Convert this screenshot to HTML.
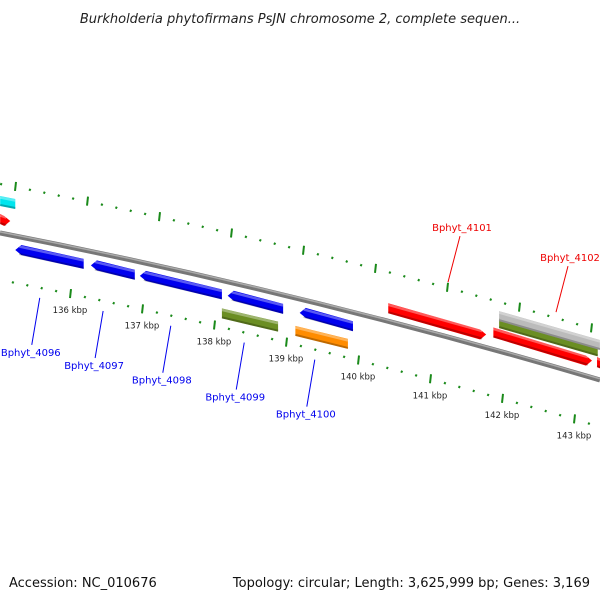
<!DOCTYPE html>
<html><head><meta charset="utf-8"><style>
body{margin:0;background:#fff}
svg{display:block;font-family:"DejaVu Sans","Liberation Sans",sans-serif}
</style></head><body>
<svg id="map" width="600" height="600" viewBox="0 0 600 600">
<rect width="600" height="600" fill="#fff"/>
<text x="300" y="23" text-anchor="middle" font-size="13" font-style="italic" fill="#222">Burkholderia phytofirmans PsJN chromosome 2, complete sequen...</text>
<path d="M0,233 Q300,291.5 600,380" stroke="#777" stroke-width="5" fill="none"/>
<path d="M0,231.8 Q300,290.3 600,378.8" stroke="#aaa" stroke-width="1.5" fill="none"/>
<g id="ticks"></g><g id="feats"></g><g id="labels"></g>
<text x="9" y="587" font-size="13" fill="#111">Accession: NC_010676</text>
<text x="590" y="587" text-anchor="end" font-size="13" fill="#111">Topology: circular; Length: 3,625,999 bp; Genes: 3,169</text>
</svg>
<script>
const kbTicks=[136,137,138,139,140,141,142,143];
const kbLabels=["136 kbp","137 kbp","138 kbp","139 kbp","140 kbp","141 kbp","142 kbp","143 kbp"];
const geneNames=["Bphyt_4096","Bphyt_4097","Bphyt_4098","Bphyt_4099","Bphyt_4100","Bphyt_4101","Bphyt_4102"];
const geneAnchor=[135.58,136.46,137.40,138.42,139.40,141.25,142.75];
const featStart=[135.24,136.29,136.97,138.19,138.11,139.19,139.13,140.42,141.88,141.96,141.96,135.03,135.03,143.32];
const featEnd=[136.19,136.90,138.11,138.96,138.89,139.93,139.86,141.78,143.25,143.33,143.36,135.17,135.24,143.6];
const featLane=[14,14,14,14,33,14,33,-13,-17,-28,-35,-14,-32,-17];
const featColor=["#0000ee","#0000ee","#0000ee","#0000ee","#6b8e23","#0000ee","#ff8c00","#ff0000","#ff0000","#6b8e23","#bbbbbb","#ff0000","#00e5ee","#ff0000"];
const featDir=[-1,-1,-1,-1,0,-1,0,1,1,0,0,1,0,1];
const NS="http://www.w3.org/2000/svg";
const X=kb=>70+(kb-136)*72;
function yb(x){const t=x/600;return 233*(1-t)*(1-t)+2*291.5*t*(1-t)+380*t*t;}
function mk(tag,attrs,parent){const e=document.createElementNS(NS,tag);for(const k in attrs)e.setAttribute(k,attrs[k]);parent.appendChild(e);return e;}
const tg=document.getElementById('ticks');
for(let k=133;k<=144;k+=0.2){const kk=Math.round(k*10)/10;const x=X(kk);if(x<-5||x>605)continue;
 const maj=Math.abs(kk-Math.round(kk))<0.01;const y=yb(x)+47;
 const e=mk('line',{x1:x+1,y1:maj?y-5:y-1,x2:x,y2:maj?y+4:y+1,stroke:'#1a8a1a','stroke-width':2},tg);
 
 }
for(let k=133;k<=145;k+=0.2){const kk=Math.round(k*10)/10;const x=X(kk)-55;if(x<-5||x>605)continue;
 const maj=Math.abs(kk-Math.round(kk))<0.01;const y=yb(x)-49;
 const e=mk('line',{x1:x+1,y1:maj?y-5:y-1,x2:x,y2:maj?y+4:y+1,stroke:'#1a8a1a','stroke-width':2},tg);
 
 }
kbTicks.forEach((k,i)=>{const x=X(k);const e=mk('text',{x:x,y:yb(x)+66,'text-anchor':'middle','font-size':8.5,fill:'#222'},tg);e.textContent=kbLabels[i];
 
 });
const fg=document.getElementById('feats');
featStart.forEach((s,i)=>{const x1=X(s),x2=X(featEnd[i]),off=featLane[i],h=5,d=featDir[i];
 const a=[x1,yb(x1)+off],b=[x2,yb(x2)+off];
 let pts;
 if(d===1)pts=[[a[0],a[1]-h],[b[0]-6,b[1]-h],[b[0],b[1]],[b[0]-6,b[1]+h],[a[0],a[1]+h]];
 else if(d===-1)pts=[[a[0]+6,a[1]-h],[b[0],b[1]-h],[b[0],b[1]+h],[a[0]+6,a[1]+h],[a[0],a[1]]];
 else pts=[[a[0],a[1]-h],[b[0],b[1]-h],[b[0],b[1]+h],[a[0],a[1]+h]];
 const e=mk('polygon',{points:pts.map(p=>p.join(',')).join(' '),fill:featColor[i]},fg);
 
 
 const hl=mk('path',{d:`M${a[0]+(d===-1?4:0)},${a[1]-h+1.5} L${b[0]-(d===1?4:0)},${b[1]-h+1.5}`,stroke:'#fff','stroke-opacity':0.35,'stroke-width':2.5},fg);
 
 
 const sh=mk('path',{d:`M${a[0]+(d===-1?4:0)},${a[1]+h-1} L${b[0]-(d===1?4:0)},${b[1]+h-1}`,stroke:'#000','stroke-opacity':0.25,'stroke-width':2},fg);
 
 });
const lg=document.getElementById('labels');
geneNames.forEach((n,i)=>{const x=X(geneAnchor[i]);const below=i<5;const col=below?'#0000ee':'#ee0000';
 const b=yb(x);
 let l,t;
 if(below){
  l=mk('line',{x1:x,y1:b+57,x2:x-8,y2:b+104,stroke:col,'stroke-width':1},lg);
  t=mk('text',{x:x-9,y:b+115,'text-anchor':'middle','font-size':10,fill:col},lg);
 }else{
  l=mk('line',{x1:x,y1:b-55,x2:x+12,y2:b-101,stroke:col,'stroke-width':1},lg);
  t=mk('text',{x:x+14,y:b-106,'text-anchor':'middle','font-size':10,fill:col},lg);
 }
 
 
 t.textContent=n;
 
 });
</script>
</body></html>
